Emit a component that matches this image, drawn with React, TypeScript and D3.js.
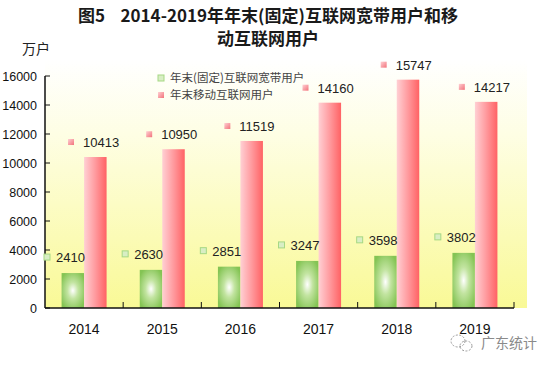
import React from "react";
import * as d3 from "d3";

const years = ["2014", "2015", "2016", "2017", "2018", "2019"];
const broadband = [2410, 2630, 2851, 3247, 3598, 3802];
const mobile = [10413, 10950, 11519, 14160, 15747, 14217];
const yTicks = [0, 2000, 4000, 6000, 8000, 10000, 12000, 14000, 16000];
const legendNames = ["年末(固定)互联网宽带用户", "年末移动互联网用户"];

const W = 549;
const H = 367;
const left = 45;
const right = 514;
const top = 76;
const bottom = 308;

const App = () => {
  const x = d3.scaleBand().domain(years).range([left, right]);
  const y = d3.scaleLinear().domain([0, 16000]).range([bottom, top]);
  const barW = 22.5;
  const font = "Arial, 'Liberation Sans', sans-serif";
  const cjk = "'Noto Sans CJK SC', sans-serif";

  return (
    <svg width={W} height={H} style={{ position: "absolute", left: 0, top: 0 }}>
      <defs>
        <linearGradient id="bg" x1="0" y1="0" x2="0" y2="1">
          <stop offset="0" stopColor="#ffffff" />
          <stop offset="0.3" stopColor="#fefee4" />
          <stop offset="1" stopColor="#f9f996" />
        </linearGradient>
        <radialGradient id="green" cx="0.5" cy="0.5" r="0.6">
          <stop offset="0" stopColor="#ffffff" />
          <stop offset="0.4" stopColor="#c2e4a0" />
          <stop offset="1" stopColor="#84c454" />
        </radialGradient>
        <linearGradient id="red" x1="0" y1="0" x2="1" y2="0">
          <stop offset="0" stopColor="#ffd0d4" />
          <stop offset="0.5" stopColor="#ff9a9e" />
          <stop offset="1" stopColor="#ff6264" />
        </linearGradient>
        <linearGradient id="redKey" x1="0" y1="0" x2="1" y2="1">
          <stop offset="0" stopColor="#ffd0d4" />
          <stop offset="1" stopColor="#f2727a" />
        </linearGradient>
      </defs>
      <rect width={W} height={H} fill="#fff" />

      {/* title */}
      <g fontFamily={cjk} fontWeight="bold" fontSize={17} fill="#1a1a1a" textAnchor="middle">
        <text x={268} y={22}>
          {"图5\u00a0\u00a0\u00a0\u00a02014-2019年年末(固定)互联网宽带用户和移"}
        </text>
        <text x={268} y={45}>动互联网用户</text>
      </g>
      <text x={22} y={54} fontFamily={cjk} fontSize={14} fill="#222">
        万户
      </text>

      {/* plot background */}
      <rect x={left} y={60} width={527 - left} height={bottom - 60} fill="url(#bg)" />

      {/* y axis */}
      <line x1={left} x2={left} y1={top} y2={bottom} stroke="#111" strokeWidth={1.5} />
      {yTicks.map(t => (
        <g key={t}>
          <line x1={left} x2={left + 5} y1={y(t)} y2={y(t)} stroke="#111" />
          <text x={37} y={y(t) + 5} textAnchor="end" fontFamily={font} fontSize={12.5} fill="#111">
            {t}
          </text>
        </g>
      ))}

      {/* bars */}
      {years.map((yr, i) => {
        const cx = (x(yr) as number) + x.bandwidth() / 2;
        return (
          <g key={yr}>
            <rect x={cx - barW} y={y(broadband[i])} width={barW} height={bottom - y(broadband[i])} fill="url(#green)" />
            <rect x={cx} y={y(mobile[i])} width={barW} height={bottom - y(mobile[i])} fill="url(#red)" />
          </g>
        );
      })}

      {/* x axis */}
      <line x1={left} x2={right} y1={bottom} y2={bottom} stroke="#111" strokeWidth={1.5} />
      {years.map(yr => (
        <line key={yr} x1={(x(yr) as number) + x.bandwidth()} x2={(x(yr) as number) + x.bandwidth()} y1={bottom} y2={bottom - 6} stroke="#111" />
      ))}
      {years.map(yr => (
        <text key={yr} x={(x(yr) as number) + x.bandwidth() / 2} y={334} textAnchor="middle" fontFamily={font} fontSize={14} fill="#111">
          {yr}
        </text>
      ))}

      {/* data labels */}
      {years.map((yr, i) => {
        const bx = x(yr) as number;
        const gy = y(broadband[i]) - 16;
        const ry = y(mobile[i]) - 15;
        return (
          <g key={yr} fontFamily={font} fontSize={13} fill="#222">
            <rect x={bx - 1} y={gy - 3} width={6} height={6} fill="#d8eec4" stroke="#a6d884" strokeWidth={1} />
            <text x={bx + 11} y={gy + 5}>{broadband[i]}</text>
            <rect x={bx + 23} y={ry - 3} width={6} height={6} fill="url(#redKey)" />
            <text x={bx + 38} y={ry + 5}>{mobile[i]}</text>
          </g>
        );
      })}

      {/* legend */}
      <g fontFamily={cjk} fontSize={11.5} fill="#444">
        <rect x={158} y={75} width={6} height={6} fill="#d8eec4" stroke="#a6d884" />
        <text x={170} y={82}>{legendNames[0]}</text>
        <rect x={158} y={92} width={6} height={6} fill="url(#redKey)" />
        <text x={170} y={99}>{legendNames[1]}</text>
      </g>

      {/* watermark */}
      <g stroke="#9a9a9a" fill="none" strokeWidth={1} strokeDasharray="2 1.5">
        <ellipse cx={458} cy={341} rx={7} ry={6} />
        <ellipse cx={466} cy={346} rx={6} ry={5} />
      </g>
      <text x={481} y={348} fontFamily={cjk} fontSize={14} fill="#8a8a8a">
        广东统计
      </text>
    </svg>
  );
};

export default App;
